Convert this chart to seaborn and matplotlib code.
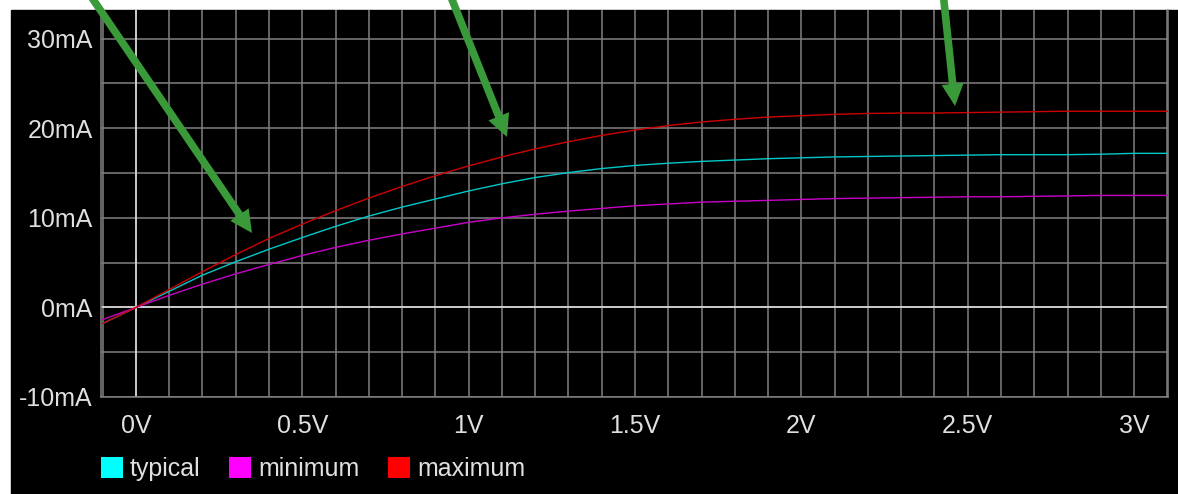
import pandas as pd
import seaborn as sns
import matplotlib.pyplot as plt
from matplotlib.patches import Patch, Rectangle
from matplotlib.ticker import MultipleLocator

# Sweep voltage (V) and device current (mA)
volts = [-0.1, 0.0, 0.1, 0.2, 0.3, 0.4, 0.5, 0.6, 0.7, 0.8, 0.9, 1.0, 1.1,
         1.2, 1.3, 1.4, 1.5, 1.6, 1.7, 1.8, 1.9, 2.0, 2.1, 2.2, 2.3, 2.4,
         2.5, 2.6, 2.7, 2.8, 2.9, 3.0, 3.1]
typical = [-1.8, 0.0, 1.8, 3.6, 5.1, 6.5, 7.8, 9.05, 10.2, 11.2, 12.1, 13.0, 13.8,
           14.5, 15.05, 15.5, 15.85, 16.1, 16.3, 16.45, 16.6, 16.7, 16.8, 16.85, 16.9, 16.95,
           17.0, 17.05, 17.05, 17.05, 17.1, 17.2, 17.2]
minimum = [-1.35, 0.0, 1.35, 2.6, 3.75, 4.8, 5.8, 6.7, 7.5, 8.2, 8.85, 9.5, 10.0,
           10.4, 10.75, 11.05, 11.35, 11.55, 11.75, 11.85, 11.95, 12.05, 12.15, 12.2, 12.25, 12.3,
           12.35, 12.35, 12.4, 12.45, 12.5, 12.5, 12.5]
maximum = [-1.8, 0.0, 2.0, 4.0, 5.9, 7.7, 9.3, 10.8, 12.2, 13.5, 14.7, 15.8, 16.8,
           17.7, 18.5, 19.2, 19.8, 20.3, 20.7, 21.0, 21.25, 21.4, 21.55, 21.65, 21.7, 21.7,
           21.75, 21.8, 21.85, 21.9, 21.9, 21.9, 21.9]

series_names = ['typical', 'minimum', 'maximum']
line_colors = ['#00c8c8', '#c800c8', '#d00000']
legend_colors = ['#00ffff', '#ff00ff', '#ff0000']
x_ticks = [0, 0.5, 1, 1.5, 2, 2.5, 3]
x_labels = ['0V', '0.5V', '1V', '1.5V', '2V', '2.5V', '3V']
y_ticks = [-10, 0, 10, 20, 30]
y_labels = ['-10mA', '0mA', '10mA', '20mA', '30mA']

df = pd.DataFrame({'V': volts * 3,
                   'I': typical + minimum + maximum,
                   'curve': [n for n in series_names for _ in volts]})

sns.set_style("dark", rc={'axes.facecolor': 'black', 'grid.color': '#808080'})
plt.rcParams['font.family'] = ['Liberation Sans', 'DejaVu Sans']

W, H = 1178, 494
fig = plt.figure(figsize=(W / 100, H / 100), dpi=100, facecolor='white')
fig.patches.append(Rectangle((11 / W, 0), 1 - 11 / W, 484 / H,
                             transform=fig.transFigure, color='black', zorder=-1))
ax = fig.add_axes([101 / W, (H - 397) / H, 1067 / W, 387 / H])

sns.lineplot(data=df, x='V', y='I', hue='curve', palette=line_colors,
             linewidth=1.0, legend=False, ax=ax, zorder=3)

ax.set_xlim(-0.105, 3.102)
ax.set_ylim(-10, 33.2)
ax.xaxis.set_minor_locator(MultipleLocator(0.1))
ax.yaxis.set_minor_locator(MultipleLocator(5))
ax.set_xticks(x_ticks, x_labels)
ax.set_yticks(y_ticks, y_labels)
ax.grid(True, which='both', color='#808080', linewidth=1.1)
ax.axvline(0, color='#e6e6e6', linewidth=1.1, zorder=2)
ax.axhline(0, color='#e6e6e6', linewidth=1.1, zorder=2)
ax.tick_params(which='both', length=0, labelsize=18, colors='#e0e0e0')
ax.tick_params(axis='x', pad=12)
ax.tick_params(axis='y', pad=6)
ax.set_xlabel('')
ax.set_ylabel('')
for side in ['left', 'bottom', 'right']:
    ax.spines[side].set_visible(True)
    ax.spines[side].set_color('#808080')
    ax.spines[side].set_linewidth(1.1)
ax.spines['top'].set_visible(False)

handles = [Patch(facecolor=c, edgecolor='none', label=n) for c, n in zip(legend_colors, series_names)]
fig.legend(handles=handles, loc='upper left', bbox_to_anchor=(101 / W, (H - 457) / H),
           ncol=3, frameon=False, fontsize=18, labelcolor='#e0e0e0',
           handlelength=0.88, handleheight=0.88, handletextpad=0.28,
           columnspacing=1.15, borderpad=0, borderaxespad=0)

# green callout arrows coming in from above the chart
green = '#3a9a3a'
for tail, tip in [((88, -8), (252, 233)), ((449, -8), (507, 137)), ((943, -8), (955, 106))]:
    ax.annotate('', xy=(tip[0], H - tip[1]), xytext=(tail[0], H - tail[1]),
                xycoords='figure pixels', textcoords='figure pixels',
                annotation_clip=False,
                arrowprops=dict(facecolor=green, edgecolor='none', width=5.5,
                                headwidth=16, headlength=16, shrink=0))

plt.savefig('out.png', dpi=100, facecolor=fig.get_facecolor())
plt.close()
